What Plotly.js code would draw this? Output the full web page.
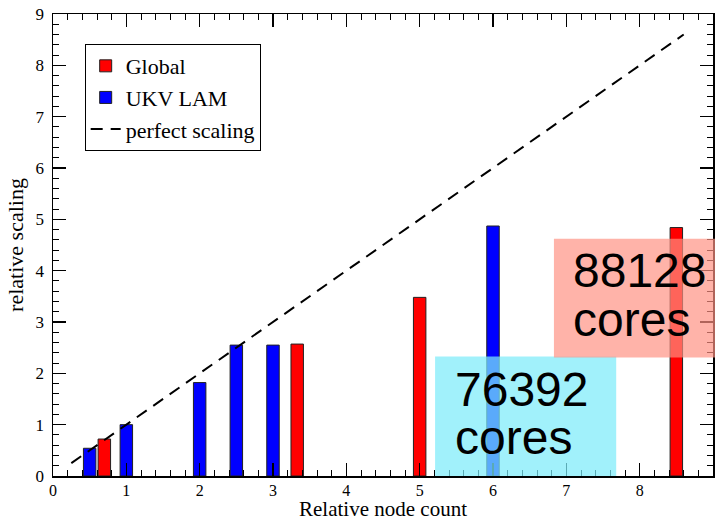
<!DOCTYPE html>
<html>
<head>
<meta charset="utf-8">
<script src="https://cdn.plot.ly/plotly-3.0.1.min.js"></script>
<style>html,body{margin:0;padding:0;background:#fff;}#chart{width:715px;height:521px;}</style>
</head>
<body>
<div id="chart"></div>
<script>
// Data
const globalX = [0.7, 3.33, 5.0, 8.5];
const globalY = [0.72, 2.57, 3.48, 4.84];
const ukvX = [0.5, 1.0, 2.0, 2.5, 3.0, 6.0];
const ukvY = [0.54, 1.0, 1.82, 2.55, 2.55, 4.87];
const perfectX = [0.25, 8.6];
const perfectY = [0.25, 8.6];
const seriesNames = ["Global", "UKV LAM", "perfect scaling"];
const xTitle = "Relative node count";
const yTitle = "relative scaling";
const noteBlue = ["76392", "cores"];
const noteRed = ["88128", "cores"];

const serif = "Liberation Serif";
const sans = "Liberation Sans";

const traces = [
  {type: "bar", name: seriesNames[0], x: globalX, y: globalY, width: 0.17,
   marker: {color: "#ff0000", line: {color: "#222", width: 1}}},
  {type: "bar", name: seriesNames[1], x: ukvX, y: ukvY, width: 0.17,
   marker: {color: "#0000ff", line: {color: "#222", width: 1}}},
  {type: "scatter", mode: "lines", name: seriesNames[2], x: perfectX, y: perfectY,
   line: {color: "#000", width: 2, dash: "12px,8px"}}
];

function makeAxis(titleText, titleSize, standoff, labelSize, labelStandoff) {
  return {
    range: [0, 9], dtick: 1, tick0: 0, tickmode: "linear",
    ticks: "inside", ticklen: 13, tickwidth: 1.5, tickcolor: "#000",
    minor: {dtick: 0.2, ticks: "inside", ticklen: 6, tickwidth: 1, tickcolor: "#000"},
    showline: true, linecolor: "#000", linewidth: 1.5, mirror: "ticks",
    showgrid: false, zeroline: false,
    tickfont: {family: serif, size: labelSize, color: "#000"},
    ticklabelstandoff: labelStandoff,
    title: {text: titleText, font: {family: serif, size: titleSize, color: "#000"}, standoff: standoff},
    fixedrange: true
  };
}

const layout = {
  width: 715, height: 521,
  margin: {l: 53, r: 2, t: 14, b: 45},
  paper_bgcolor: "#fff", plot_bgcolor: "#fff",
  font: {family: serif, size: 17, color: "#000"},
  barmode: "overlay",
  showlegend: true,
  legend: {x: 0.048, y: 0.935, xanchor: "left", yanchor: "top",
           bordercolor: "#000", borderwidth: 1, bgcolor: "#fff",
           font: {family: serif, size: 22, color: "#000"},
           tracegroupgap: 0, itemwidth: 30},
  xaxis: makeAxis(xTitle, 21, 4, 16, -1),
  yaxis: makeAxis(yTitle, 22, 6, 17, 4),
  shapes: [
    {type: "rect", xref: "x", yref: "y", x0: 5.21, x1: 7.68, y0: 0, y1: 2.33,
     fillcolor: "rgba(125,235,250,0.72)", line: {width: 0}, layer: "above"},
    {type: "rect", xref: "paper", yref: "y", x0: 0.759, x1: 1.01, y0: 2.31, y1: 4.62,
     fillcolor: "rgba(255,145,130,0.69)", line: {width: 0}, layer: "above"}
  ],
  annotations: [
    {x: 5.46, y: 1.68, xref: "x", yref: "y", xanchor: "left", yanchor: "middle", text: noteBlue[0],
     showarrow: false, font: {family: sans, size: 48, color: "#000"}},
    {x: 5.46, y: 0.75, xref: "x", yref: "y", xanchor: "left", yanchor: "middle", text: noteBlue[1],
     showarrow: false, font: {family: sans, size: 48, color: "#000"}},
    {x: 7.07, y: 4.0, xref: "x", yref: "y", xanchor: "left", yanchor: "middle", text: noteRed[0],
     showarrow: false, font: {family: sans, size: 48, color: "#000"}},
    {x: 7.07, y: 3.04, xref: "x", yref: "y", xanchor: "left", yanchor: "middle", text: noteRed[1],
     showarrow: false, font: {family: sans, size: 48, color: "#000"}}
  ]
};

Plotly.newPlot("chart", traces, layout, {displayModeBar: false, staticPlot: true});
</script>
</body>
</html>
